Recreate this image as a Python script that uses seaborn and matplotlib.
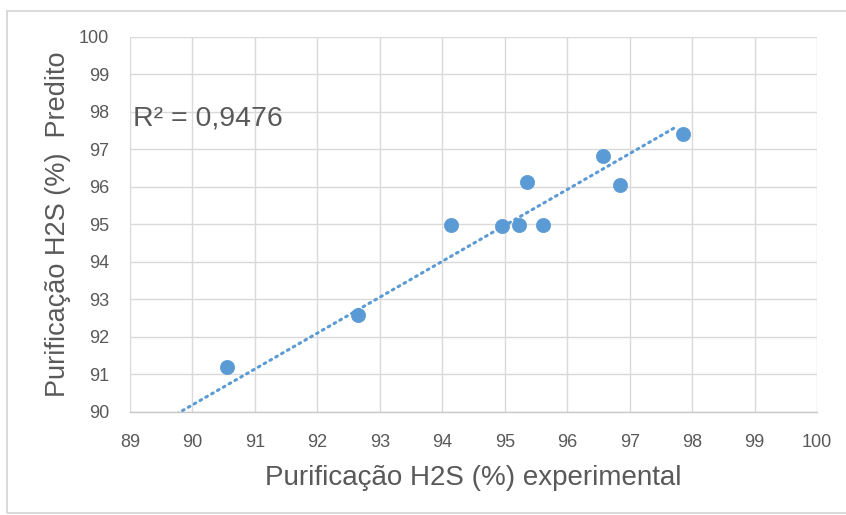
import numpy as np
import pandas as pd
import matplotlib
matplotlib.use("Agg")
import matplotlib.pyplot as plt
import seaborn as sns
from matplotlib.patches import Rectangle

# Experimental vs predicted H2S purification (%)
experimental = [90.55, 92.65, 94.14, 94.96, 95.23, 95.35, 95.62, 96.58, 96.84, 97.85]
predicted = [91.20, 92.58, 94.98, 94.96, 94.98, 96.13, 94.98, 96.83, 96.05, 97.42]
x_ticks = list(range(89, 101))
y_ticks = list(range(90, 101))
r2_label = "R² = 0,9476"
# Linear trendline coefficients (predicted = slope * experimental + intercept)
trend_slope = 0.957
trend_intercept = 4.06

df = pd.DataFrame({"exp": experimental, "pred": predicted})

sns.set_theme(style="white")
plt.rcParams["font.family"] = ["Liberation Sans", "DejaVu Sans"]

blue = "#5B9BD5"
grid_c = "#D9D9D9"
text_c = "#595959"

fig = plt.figure(figsize=(8.46, 5.15), dpi=100)
fig.patch.set_facecolor("white")
fig.patches.append(Rectangle((0.0083, 0.004), 1.1, 0.9746, transform=fig.transFigure,
                             fill=False, edgecolor="#D9D9D9", linewidth=1.4))

ax = fig.add_axes([0.1537, 0.200, 0.812, 0.7282])

sns.scatterplot(data=df, x="exp", y="pred", ax=ax, color=blue, s=105,
                edgecolor=blue, linewidth=0.5, zorder=3)

# Trendline, extended backwards until it meets the lower axis
xs = np.array([89.0, df["exp"].max() - 0.08])
ax.plot(xs, trend_slope * xs + trend_intercept, linestyle=(0, (0.6, 1.6)), color=blue,
        linewidth=2.2, dash_capstyle="round", zorder=2)

ax.set_xlim(89, 100)
ax.set_ylim(90, 100)
ax.set_xticks(x_ticks)
ax.set_yticks(y_ticks)
ax.set_xticklabels([str(t) for t in x_ticks], fontsize=13, color=text_c)
ax.set_yticklabels([str(t) for t in y_ticks], fontsize=13, color=text_c)
ax.tick_params(axis="x", length=0, pad=16)
ax.tick_params(axis="y", length=0, pad=15)

ax.grid(True, color=grid_c, linewidth=1.0)
ax.set_axisbelow(True)
for side in ["top", "right", "left"]:
    ax.spines[side].set_visible(False)
ax.spines["bottom"].set_color("#C8C8C8")
ax.spines["bottom"].set_linewidth(1.0)

ax.set_xlabel("Purificação H2S (%) experimental", fontsize=20, color=text_c, labelpad=10)
ax.set_ylabel("Purificação H2S (%)  Predito", fontsize=19.5, color=text_c, labelpad=6)

ax.text(89.05, 97.83, r2_label, fontsize=20.5, color=text_c, va="center", ha="left")

fig.savefig("out.png", dpi=100, facecolor="white")
